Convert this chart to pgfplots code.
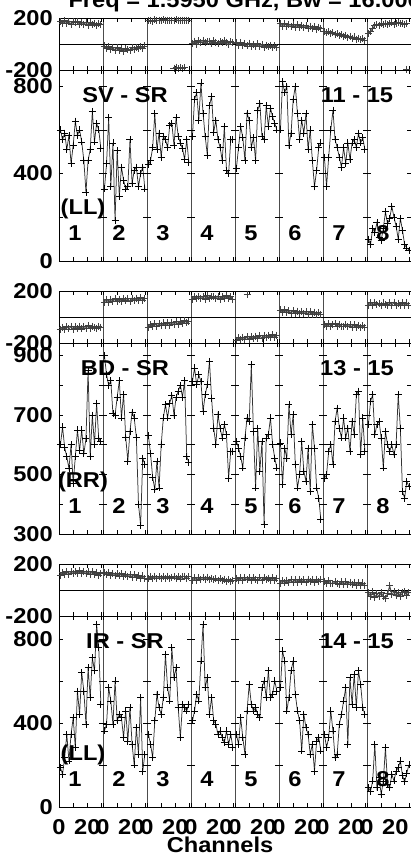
\documentclass[border=0pt]{standalone}
\usepackage{pgfplots}
\pgfplotsset{compat=1.18}
\usepackage{pgfplotstable}
\usepackage{fontspec}
\setmainfont{Liberation Sans}[FakeStretch=1.1]
\newcommand\lab{\fontsize{21.5}{21.5}\selectfont\bfseries}

% amplitudes, baseline SV-SR, IF 1..8
\pgfplotstableread{
ch   a1  a2  a3  a4  a5  a6  a7  a8
1    600 330 440 570 425 600 475 100
2.5  555 445 460 740 520 820 340 75
4    585 655 520 770 615 770 475 150
5.5  510 340 675 645 565 800 600 130
7    575 540 510 815 460 530 690 175
8.5  445 185 585 675 675 585 555 110
10   530 505 475 570 645 740 520 95
11.5 640 295 570 485 520 800 475 150
13   575 430 555 710 565 675 430 225
14.5 600 370 520 755 460 555 520 170
16   545 330 620 590 690 645 445 195
17.5 460 340 630 645 720 585 540 250
19   315 555 530 555 570 675 465 200
20.5 460 355 655 520 555 510 540 160
22   510 415 570 460 710 600 555 100
23.5 685 430 540 615 615 460 520 195
25   545 340 515 415 700 340 585 140
26.5 630 400 465 400 660 415 540 75
28   600 430 555 555 630 520 565 60
29.5 515 330 450 555 600 540 510 50
}\ampA
\pgfplotstableread{
ch   p1  p2  p3  p4 p5  p6  p7  p8
1    172 -15 178 5  8   158 100 80
2.5  160 -35 182 22 -10 138 85  95
4    180 -20 176 0  12  160 95  120
5.5  158 -42 185 25 -12 135 78  140
7    176 -28 180 10 5   152 88  150
8.5  150 -48 183 28 -15 132 70  145
10   170 -30 178 8  6   150 80  155
11.5 162 -50 186 18 -18 130 65  150
13   175 -32 181 22 0   148 72  160
14.5 150 -55 184 5  -20 128 58  148
16   168 -38 179 25 2   144 66  155
17.5 152 -45 183 12 -22 125 50  162
19   166 -48 180 2  -5  140 60  150
20.5 145 -30 185 20 -25 122 44  158
22   162 -45 182 8  -8  138 54  165
23.5 148 -25 178 24 -22 118 38  155
25   160 -38 184 15 -10 132 46  160
26.5 140 -20 180 0  -30 115 32  150
28   158 -32 183 18 -12 130 40  158
29.5 150 -15 181 10 -28 118 28  nan
}\phA

% baseline BD-SR
\pgfplotstableread{
ch   a1  a2  a3  a4  a5  a6  a7  a8
1    600 900 630 813 611 606 488 668
2.5  660 835 570 858 589 466 499 746
4    590 800 490 802 561 589 578 768
5.5  560 815 450 835 522 555 600 634
7    520 705 545 813 623 735 533 668
8.5  600 700 455 712 690 634 679 679
10   470 760 600 768 679 701 723 623
11.5 560 815 690 802 869 533 656 522
13   650 690 735 880 645 455 623 645
14.5 580 770 690 757 455 499 690 600
16   650 625 740 656 656 611 623 578
17.5 570 545 765 600 511 511 656 600
19   620 645 700 701 611 477 578 567
20.5 850 710 760 656 331 589 679 600
22   560 690 780 623 623 443 634 768
23.5 700 625 800 668 634 668 768 656
25   600 400 760 634 690 589 780 443
26.5 740 330 815 488 600 455 567 421
28   620 555 560 578 555 421 690 477
29.5 610 535 540 578 522 348 578 460
}\ampB
\pgfplotstableread{
ch   p1  p2  p3  p4  p5   p6 p7  p8
1    -95 115 -78 138 -178 54 -55 90
2.5  -78 135 -58 158 -160 36 -72 110
4    -98 112 -75 140 -175 56 -52 88
5.5  -75 138 -52 160 -155 32 -70 112
7    -92 120 -70 142 -172 50 -56 94
8.5  -72 140 -50 156 -152 30 -50 105
10   -95 118 -68 138 -170 48 -72 92
11.5 -76 138 -46 162 -150 28 -54 108
13   -90 122 -64 144 -168 46 -70 96
14.5 -70 142 -42 154 -148 26 -74 88
16   -92 124 -62 158 -165 44 -56 110
17.5 -72 140 -40 140 -145 24 -76 92
19   -88 120 -58 160 -162 42 -58 112
20.5 -68 145 -38 138 -142 22 -78 90
22   -86 126 -54 156 -160 40 -60 106
23.5 -70 146 -34 142 -140 20 -80 88
25   -80 128 -52 162 -158 38 -64 110
26.5 -85 148 -30 140 -138 18 -82 92
28   -70 130 -46 156 -154 34 -66 108
29.5 -78 140 -32 138 -140 22 -80 90
}\phB

% baseline IR-SR
\pgfplotstableread{
ch   a1  a2  a3  a4  a5  a6  a7  a8
1    187 362 346 410 346 568 346 92
2.5  156 394 298 457 298 743 283 76
4    235 568 235 537 425 695 330 124
5.5  346 505 410 505 330 457 457 298
7    219 394 537 695 251 521 362 92
8.5  346 600 473 870 457 648 235 140
10   425 410 441 568 584 695 251 60
11.5 283 441 521 616 489 537 394 124
13   552 425 727 441 457 457 441 283
14.5 441 330 568 521 473 410 505 108
16   640 457 505 410 441 267 568 92
17.5 552 314 759 394 425 441 298 156
19   394 473 616 346 568 378 616 124
20.5 663 298 663 362 600 346 489 171
22   521 200 473 330 521 251 632 187
23.5 711 378 330 306 648 298 473 219
25   648 251 489 362 521 171 648 150
26.5 870 521 473 298 537 314 584 120
28   759 171 457 346 600 330 473 160
29.5 489 251 489 283 552 267 441 200
}\ampC
\pgfplotstableread{
ch   p1  p2  p3  p4  p5 p6 p7 p8
1    115 135 85  75  92 52 68 -20
2.5  135 118 104 94  74 72 50 -50
4    118 134 86  76  94 54 70 -15
5.5  140 112 106 96  76 76 52 -58
7    122 130 88  78  96 56 48 -28
8.5  142 110 102 98  78 78 66 -52
10   125 128 86  80  94 58 50 -20
11.5 145 108 104 100 76 80 46 -48
13   128 126 88  82  95 60 64 -62
14.5 148 104 106 92  78 82 44 -30
16   126 122 86  78  74 62 62 32
17.5 145 102 100 90  94 80 42 -38
19   124 120 104 76  76 60 60 -12
20.5 142 98  86  86  96 84 40 -45
22   122 116 104 72  78 62 58 -18
23.5 140 96  85  84  92 82 38 -48
25   118 112 102 68  76 60 56 -22
26.5 135 92  106 80  94 84 36 -14
28   114 108 87  66  74 64 54 -42
29.5 125 88  103 76  92 82 36 -20
}\phC

\tikzset{ifcross/.style={black, line width=0.7pt}}
\pgfplotsset{
  base/.style={scale only axis, width=352pt, xmin=0, xmax=248,
    axis line style={black, line width=0.9pt},
    tick align=inside, major tick length=4pt, minor tick length=4pt,
    every tick/.style={black, line width=0.7pt},
    xtick={0,10,20,30,31,41,51,61,62,72,82,92,93,103,113,123,124,134,144,154,
           155,165,175,185,186,196,206,216,217,227,237,247},
    xticklabels={,,},
    extra x ticks={31,62,93,124,155,186,217}, extra x tick labels={,,},
    extra x tick style={grid=major, major grid style={black!70, line width=0.9pt}},
    yticklabel style={font=\lab, anchor=east, inner sep=0pt, xshift=-6pt},
  },
  phase/.style={base, height=52pt, ymin=-200, ymax=200,
    ytick={-200,200}, yticklabels={-200,200},
    extra y ticks={0}, extra y tick labels={,,},
    extra y tick style={grid=major, major grid style={black, line width=0.9pt}},
  },
  amp/.style={base, height=191pt},
  dat/.style={black!80, line width=0.75pt, mark=+, mark size=3.5pt,
    mark options={black, line width=0.75pt}},
  pdat/.style={dat, black!70, mark size=3.5pt, line width=1pt,
    mark options={black!75, line width=0.9pt}},
}

\begin{document}
\begin{tikzpicture}

% ---------- SV - SR ----------
\begin{axis}[phase, at={(59pt,-18pt)}, anchor=north west]
\pgfplotsinvokeforeach{1,...,8}{
  \addplot[pdat] table[x expr=\thisrow{ch}+31*(#1-1), y=p#1] {\phA};
}
\addplot[pdat] coordinates {(81,-185) (82.5,-178) (84,-190) (85.5,-182) (87,-188) (88.5,-180)};
\addplot[pdat] coordinates {(245,-195)};
\end{axis}

\begin{axis}[amp, at={(59pt,-70pt)}, anchor=north west, ymin=0, ymax=874,
  ytick={0,400,800}, yticklabels={0,400,800}, minor ytick={200,600}]
\pgfplotsinvokeforeach{1,...,8}{
  \addplot[dat] table[x expr=\thisrow{ch}+31*(#1-1), y=a#1] {\ampA};
}
\pgfplotsinvokeforeach{31,62,93,124,155,186,217}{
  \draw[ifcross] ([xshift=-4pt]axis cs:#1,200) -- ([xshift=4pt]axis cs:#1,200);
  \draw[ifcross] ([xshift=-4pt]axis cs:#1,400) -- ([xshift=4pt]axis cs:#1,400);
  \draw[ifcross] ([xshift=-4pt]axis cs:#1,600) -- ([xshift=4pt]axis cs:#1,600);
  \draw[ifcross] ([xshift=-4pt]axis cs:#1,800) -- ([xshift=4pt]axis cs:#1,800);
}
\end{axis}

% ---------- BD - SR ----------
\begin{axis}[phase, at={(59pt,-291pt)}, anchor=north west]
\pgfplotsinvokeforeach{1,...,8}{
  \addplot[pdat] table[x expr=\thisrow{ch}+31*(#1-1), y=p#1] {\phB};
}
\addplot[pdat] coordinates {(132.5,175)};
\end{axis}

\begin{axis}[amp, at={(59pt,-343pt)}, anchor=north west, ymin=300, ymax=942,
  ytick={300,500,700,900}, yticklabels={300,500,700,900}, minor ytick={400,600,800}]
\pgfplotsinvokeforeach{1,...,8}{
  \addplot[dat] table[x expr=\thisrow{ch}+31*(#1-1), y=a#1] {\ampB};
}
\pgfplotsinvokeforeach{31,62,93,124,155,186,217}{
  \draw[ifcross] ([xshift=-4pt]axis cs:#1,400) -- ([xshift=4pt]axis cs:#1,400);
  \draw[ifcross] ([xshift=-4pt]axis cs:#1,500) -- ([xshift=4pt]axis cs:#1,500);
  \draw[ifcross] ([xshift=-4pt]axis cs:#1,600) -- ([xshift=4pt]axis cs:#1,600);
  \draw[ifcross] ([xshift=-4pt]axis cs:#1,700) -- ([xshift=4pt]axis cs:#1,700);
  \draw[ifcross] ([xshift=-4pt]axis cs:#1,800) -- ([xshift=4pt]axis cs:#1,800);
  \draw[ifcross] ([xshift=-4pt]axis cs:#1,900) -- ([xshift=4pt]axis cs:#1,900);
}
\end{axis}

% ---------- IR - SR ----------
\begin{axis}[phase, at={(59pt,-564pt)}, anchor=north west]
\pgfplotsinvokeforeach{1,...,8}{
  \addplot[pdat] table[x expr=\thisrow{ch}+31*(#1-1), y=p#1] {\phC};
}
\end{axis}

\begin{axis}[amp, at={(59pt,-616pt)}, anchor=north west, ymin=0, ymax=909,
  ytick={0,400,800}, yticklabels={0,400,800}, minor ytick={200,600},
  xticklabels={0,,20\hspace{8pt},,0,,20\hspace{8pt},,0,,20\hspace{8pt},,0,,20\hspace{8pt},,
               0,,20\hspace{8pt},,0,,20\hspace{8pt},,0,,20\hspace{8pt},,0,,20\hspace{8pt},},
  xticklabel style={font=\lab, anchor=base, yshift=-27pt}]
\pgfplotsinvokeforeach{1,...,8}{
  \addplot[dat] table[x expr=\thisrow{ch}+31*(#1-1), y=a#1] {\ampC};
}
\pgfplotsinvokeforeach{31,62,93,124,155,186,217}{
  \draw[ifcross] ([xshift=-4pt]axis cs:#1,200) -- ([xshift=4pt]axis cs:#1,200);
  \draw[ifcross] ([xshift=-4pt]axis cs:#1,400) -- ([xshift=4pt]axis cs:#1,400);
  \draw[ifcross] ([xshift=-4pt]axis cs:#1,600) -- ([xshift=4pt]axis cs:#1,600);
  \draw[ifcross] ([xshift=-4pt]axis cs:#1,800) -- ([xshift=4pt]axis cs:#1,800);
}
\end{axis}

% ---------- labels ----------
\node[font=\lab, anchor=base west] at (65pt,-7pt) {Freq = 1.5950 GHz, Bw = 16.000 MHz};
\foreach \yy/\pair/\pol/\ants in {95/SV - SR/LL/11 - 15, 368/BD - SR/RR/13 - 15, 641/IR - SR/LL/14 - 15}{
  \node[font=\lab] at (125pt,-\yy pt) {\pair};
  \node[font=\lab] at (357pt,-\yy pt) {\ants};
  \node[font=\lab] at (83pt,{-(\yy+114)*1pt}) {(\pol)};
  \foreach \k in {1,...,8}
    \node[font=\lab] at ({(59+44*(\k-1)+16)*1pt},{-(\yy+138)*1pt}) {\k};
}
\node[font=\lab, anchor=base] at (220pt,-852pt) {Channels};

\pgfresetboundingbox
\useasboundingbox (0,0) rectangle (411pt,-862pt);
\end{tikzpicture}
\end{document}
